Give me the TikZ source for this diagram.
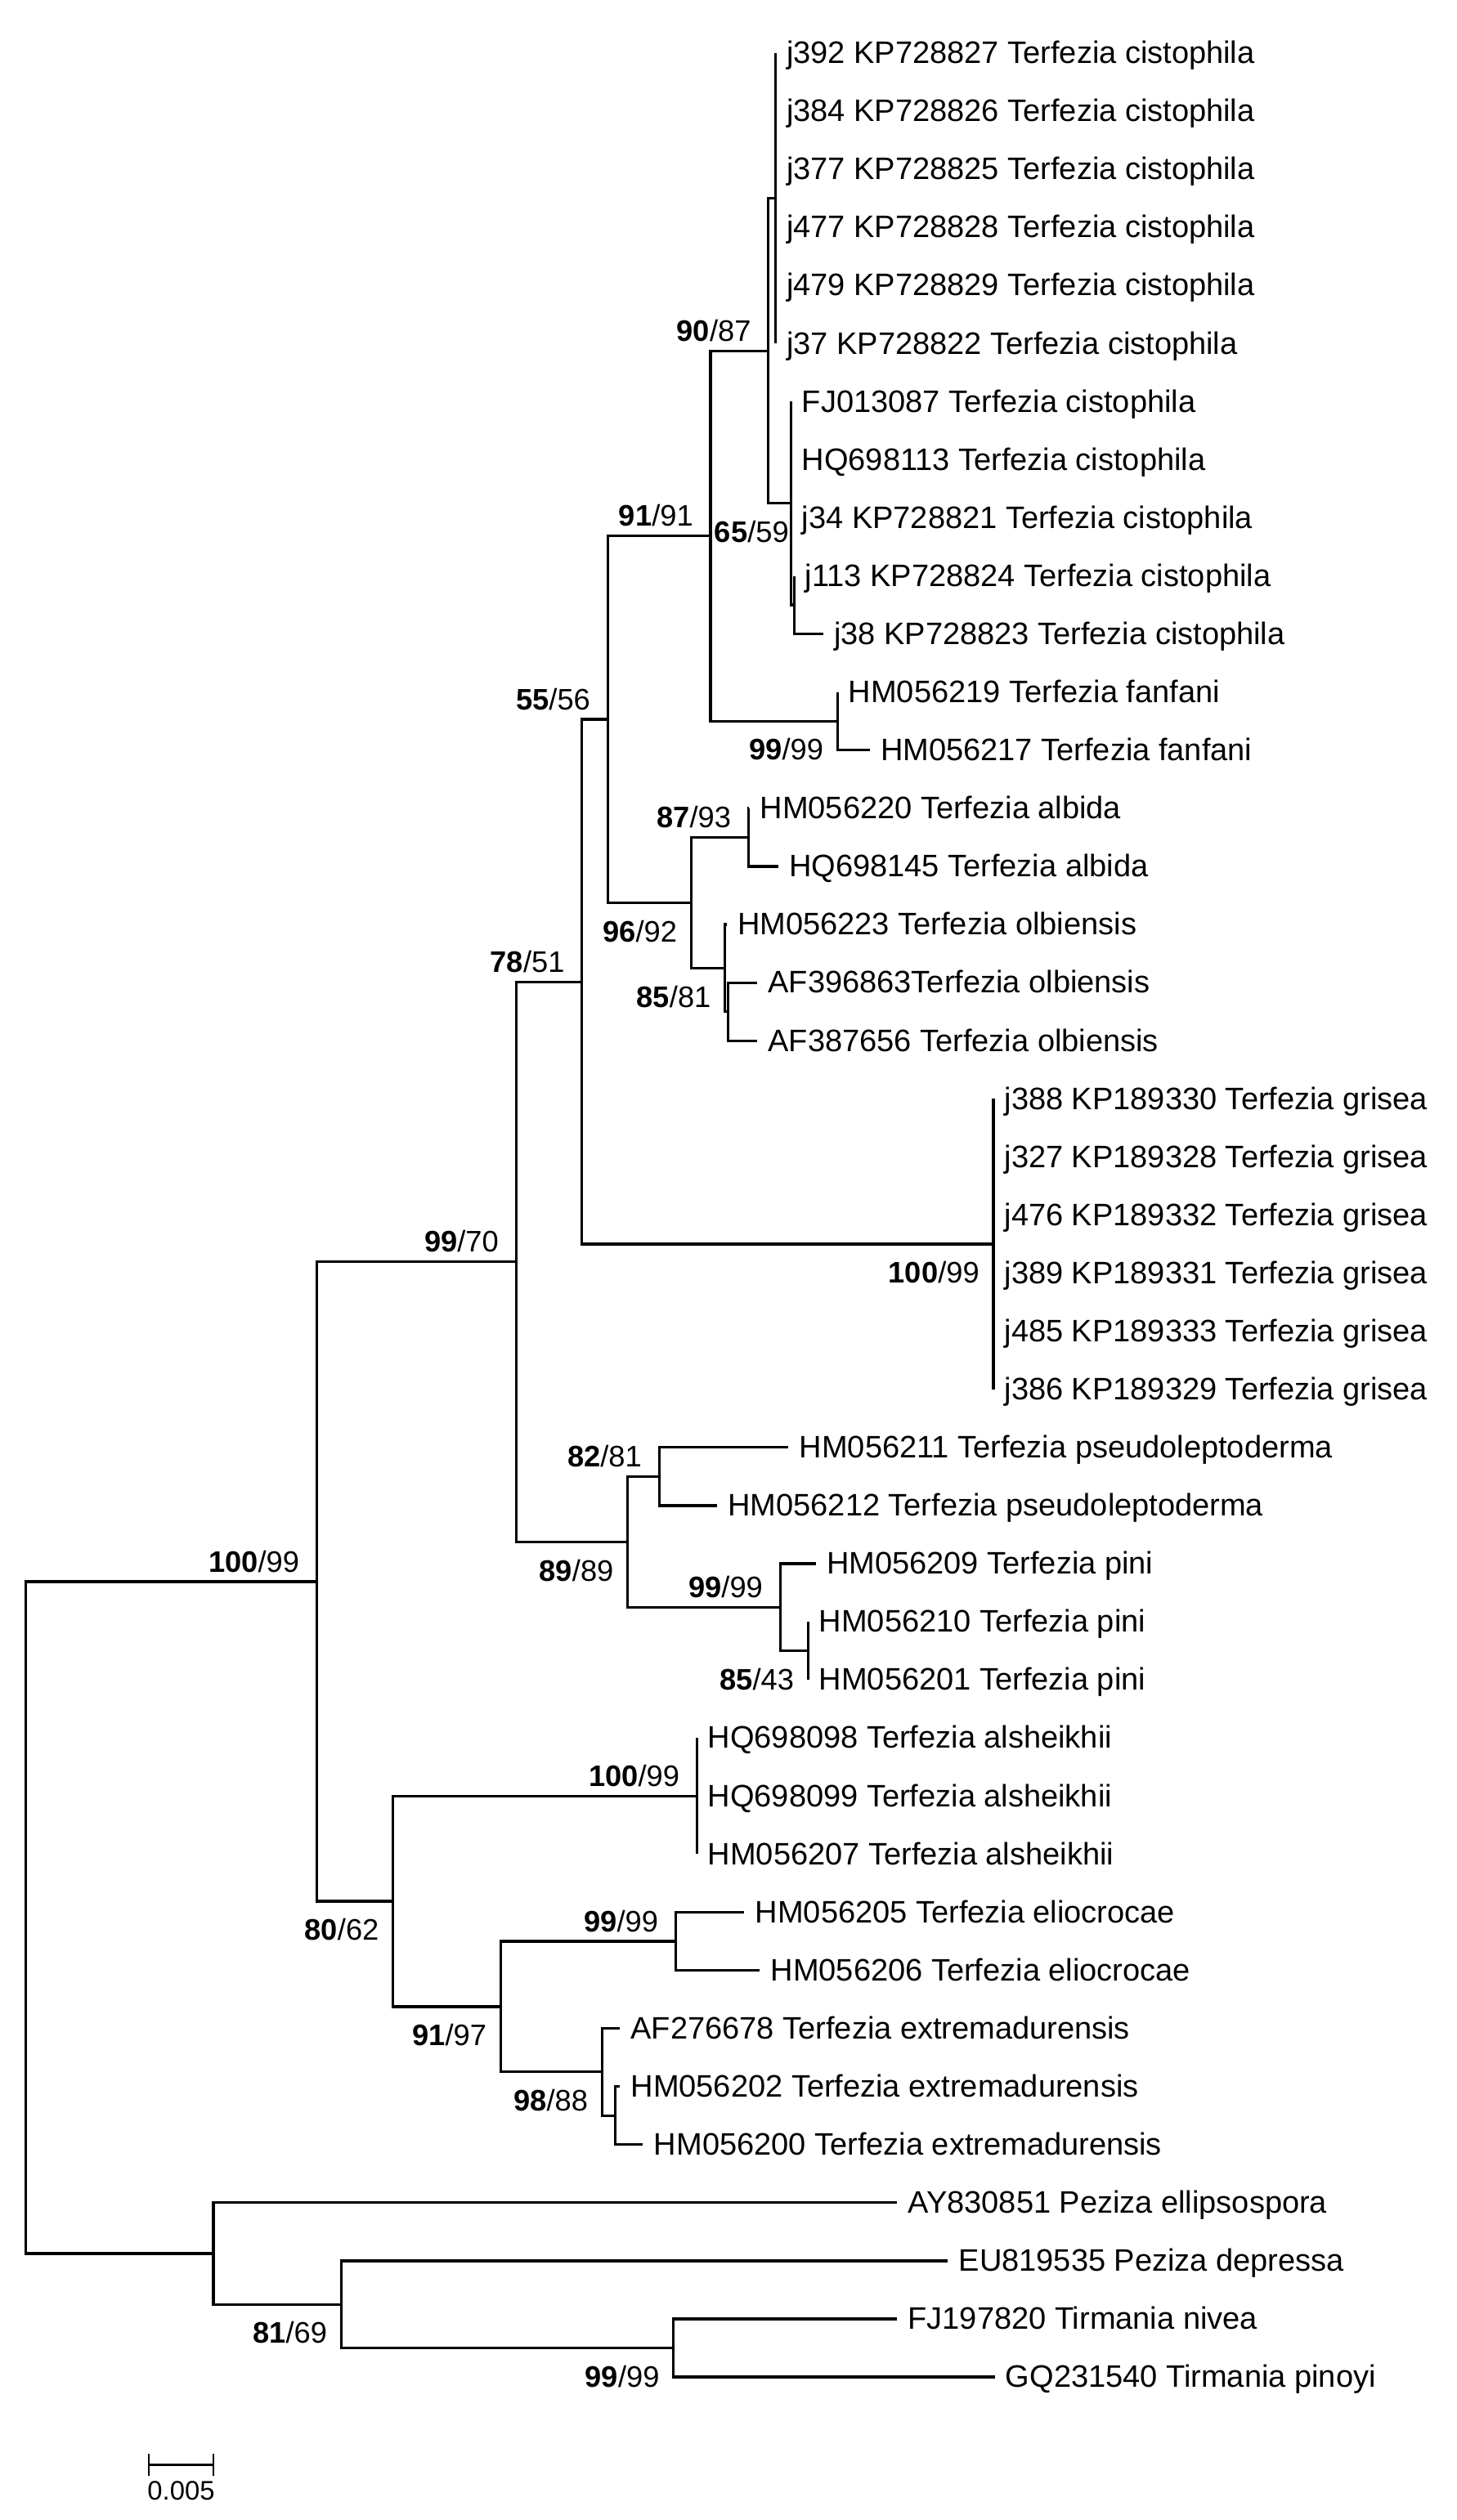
\documentclass[tikz,border=0pt]{standalone}
\usepackage{fontspec}
\setmainfont{Liberation Sans}
\usepackage{tikz}
\usetikzlibrary{positioning}
\definecolor{treeink}{RGB}{0,0,0}
\tikzset{
  branch/.style={line width=0.95pt, color=treeink},
  taxon/.style={anchor=base west, inner sep=0pt, xshift=0.13cm, yshift=-0.13cm,
    font=\fontsize{11}{13}\selectfont, color=treeink},
  bsup/.style={anchor=south east, inner sep=0pt, xshift=-0.21cm, yshift=0.11cm,
    font=\fontsize{10.5}{12}\selectfont, color=treeink},
  bsdown/.style={anchor=north east, inner sep=0pt, xshift=-0.17cm, yshift=-0.21cm,
    font=\fontsize{10.5}{12}\selectfont, color=treeink},
  scalelbl/.style={inner sep=0pt, font=\fontsize{9.5}{11}\selectfont, color=treeink}
}
\newcommand{\bsval}[2]{\textbf{#1}/#2}

\begin{document}
\begin{tikzpicture}[x=0.02cm, y=-0.02cm]
  \useasboundingbox (0,0) rectangle (906,1568);

  % Internal nodes
  \coordinate (nRoot)    at (16,1193.1);
  \coordinate (nTerf)    at (197,984.1);
  \coordinate (nUpper)   at (321,785.1);
  \coordinate (nCore)    at (362,610.9);
  \coordinate (nMid)     at (378,447.6);
  \coordinate (nCistFan) at (442,333.5);
  \coordinate (nCist)    at (478,218.3);
  \coordinate (nJgrp)    at (482.5,123.4);
  \coordinate (nCistB)   at (492,313.2);
  \coordinate (nCistC)   at (494,376.4);
  \coordinate (nFan)     at (521,448.7);
  \coordinate (nAlbOlb)  at (430,561.7);
  \coordinate (nAlb)     at (465.5,521.0);
  \coordinate (nOlb)     at (451,602.4);
  \coordinate (nOlbB)    at (453,629.5);
  \coordinate (nGris)    at (618,774.1);
  \coordinate (nPsPi)    at (390.5,959.4);
  \coordinate (nPseu)    at (410,918.7);
  \coordinate (nPini)    at (485.3,1000.0);
  \coordinate (nPiniB)   at (502.7,1027.1);
  \coordinate (nLower)   at (244.5,1183.0);
  \coordinate (nAls)     at (433.5,1117.5);
  \coordinate (nElEx)    at (311.5,1248.6);
  \coordinate (nElio)    at (420.3,1207.9);
  \coordinate (nExt)     at (374.5,1289.2);
  \coordinate (nExtB)    at (382.8,1316.3);
  \coordinate (nOut)     at (132.7,1402.2);
  \coordinate (nPezTir)  at (212.3,1433.8);
  \coordinate (nTir)     at (419,1460.9);

  % Leaf tips and taxon names
  % Terfezia cistophila
  \coordinate (l1) at (482.5,33);      \node[taxon] (t1) at (l1) {j392 KP728827 Terfezia cistophila};
  \coordinate (l2) at (482.5,69.15);   \node[taxon] (t2) at (l2) {j384 KP728826 Terfezia cistophila};
  \coordinate (l3) at (482.5,105.3);   \node[taxon] (t3) at (l3) {j377 KP728825 Terfezia cistophila};
  \coordinate (l4) at (482.5,141.45);  \node[taxon] (t4) at (l4) {j477 KP728828 Terfezia cistophila};
  \coordinate (l5) at (482.5,177.6);   \node[taxon] (t5) at (l5) {j479 KP728829 Terfezia cistophila};
  \coordinate (l6) at (482.5,213.75);  \node[taxon] (t6) at (l6) {j37 KP728822 Terfezia cistophila};
  \coordinate (l7) at (492,249.9);     \node[taxon] (t7) at (l7) {FJ013087 Terfezia cistophila};
  \coordinate (l8) at (492,286.05);    \node[taxon] (t8) at (l8) {HQ698113 Terfezia cistophila};
  \coordinate (l9) at (492,322.2);     \node[taxon] (t9) at (l9) {j34 KP728821 Terfezia cistophila};
  \coordinate (l10) at (494,358.35);   \node[taxon] (t10) at (l10) {j113 KP728824 Terfezia cistophila};
  \coordinate (l11) at (512,394.5);    \node[taxon] (t11) at (l11) {j38 KP728823 Terfezia cistophila};
  % Terfezia fanfani, albida, olbiensis
  \coordinate (l12) at (521,430.65);   \node[taxon] (t12) at (l12) {HM056219 Terfezia fanfani};
  \coordinate (l13) at (541,466.8);    \node[taxon] (t13) at (l13) {HM056217 Terfezia fanfani};
  \coordinate (l14) at (466,502.95);   \node[taxon] (t14) at (l14) {HM056220 Terfezia albida};
  \coordinate (l15) at (484,539.1);    \node[taxon] (t15) at (l15) {HQ698145 Terfezia albida};
  \coordinate (l16) at (452,575.25);   \node[taxon] (t16) at (l16) {HM056223 Terfezia olbiensis};
  \coordinate (l17) at (471,611.4);    \node[taxon] (t17) at (l17) {AF396863Terfezia olbiensis};
  \coordinate (l18) at (471,647.55);   \node[taxon] (t18) at (l18) {AF387656 Terfezia olbiensis};
  % Terfezia grisea
  \coordinate (l19) at (618,683.7);    \node[taxon] (t19) at (l19) {j388 KP189330 Terfezia grisea};
  \coordinate (l20) at (618,719.85);   \node[taxon] (t20) at (l20) {j327 KP189328 Terfezia grisea};
  \coordinate (l21) at (618,756);      \node[taxon] (t21) at (l21) {j476 KP189332 Terfezia grisea};
  \coordinate (l22) at (618,792.15);   \node[taxon] (t22) at (l22) {j389 KP189331 Terfezia grisea};
  \coordinate (l23) at (618,828.3);    \node[taxon] (t23) at (l23) {j485 KP189333 Terfezia grisea};
  \coordinate (l24) at (618,864.45);   \node[taxon] (t24) at (l24) {j386 KP189329 Terfezia grisea};
  % Terfezia pseudoleptoderma, pini
  \coordinate (l25) at (490.5,900.6);  \node[taxon] (t25) at (l25) {HM056211 Terfezia pseudoleptoderma};
  \coordinate (l26) at (446,936.75);   \node[taxon] (t26) at (l26) {HM056212 Terfezia pseudoleptoderma};
  \coordinate (l27) at (507.4,972.9);  \node[taxon] (t27) at (l27) {HM056209 Terfezia pini};
  \coordinate (l28) at (502.7,1009.05); \node[taxon] (t28) at (l28) {HM056210 Terfezia pini};
  \coordinate (l29) at (502.7,1045.2); \node[taxon] (t29) at (l29) {HM056201 Terfezia pini};
  % Terfezia alsheikhii, eliocrocae, extremadurensis
  \coordinate (l30) at (433.5,1081.35); \node[taxon] (t30) at (l30) {HQ698098 Terfezia alsheikhii};
  \coordinate (l31) at (433.5,1117.5); \node[taxon] (t31) at (l31) {HQ698099 Terfezia alsheikhii};
  \coordinate (l32) at (433.5,1153.65); \node[taxon] (t32) at (l32) {HM056207 Terfezia alsheikhii};
  \coordinate (l33) at (463,1189.8);   \node[taxon] (t33) at (l33) {HM056205 Terfezia eliocrocae};
  \coordinate (l34) at (472.6,1225.95); \node[taxon] (t34) at (l34) {HM056206 Terfezia eliocrocae};
  \coordinate (l35) at (385.6,1262.1); \node[taxon] (t35) at (l35) {AF276678 Terfezia extremadurensis};
  \coordinate (l36) at (385.6,1298.25); \node[taxon] (t36) at (l36) {HM056202 Terfezia extremadurensis};
  \coordinate (l37) at (400,1334.4);   \node[taxon] (t37) at (l37) {HM056200 Terfezia extremadurensis};
  % Outgroup
  \coordinate (l38) at (558,1370.55);  \node[taxon] (t38) at (l38) {AY830851 Peziza ellipsospora};
  \coordinate (l39) at (589.6,1406.7); \node[taxon] (t39) at (l39) {EU819535 Peziza depressa};
  \coordinate (l40) at (558,1442.85);  \node[taxon] (t40) at (l40) {FJ197820 Tirmania nivea};
  \coordinate (l41) at (618.7,1479);   \node[taxon] (t41) at (l41) {GQ231540 Tirmania pinoyi};

  % Branches
  \draw[branch] (nRoot) |- (nTerf) (nRoot) |- (nOut);
  \draw[branch] (nTerf) |- (nUpper) (nTerf) |- (nLower);
  \draw[branch] (nUpper) |- (nCore) (nUpper) |- (nPsPi);
  \draw[branch] (nCore) |- (nMid) (nCore) |- (nGris);
  \draw[branch] (nMid) |- (nCistFan) (nMid) |- (nAlbOlb);
  \draw[branch] (nCistFan) |- (nCist) (nCistFan) |- (nFan);
  \draw[branch] (nCist) |- (nJgrp) (nCist) |- (nCistB);
  \draw[branch] (nJgrp) |- (l1) (nJgrp) |- (l2) (nJgrp) |- (l3)
    (nJgrp) |- (l4) (nJgrp) |- (l5) (nJgrp) |- (l6);
  \draw[branch] (nCistB) |- (l7) (nCistB) |- (l8) (nCistB) |- (l9) (nCistB) |- (nCistC);
  \draw[branch] (nCistC) |- (l10) (nCistC) |- (l11);
  \draw[branch] (nFan) |- (l12) (nFan) |- (l13);
  \draw[branch] (nAlbOlb) |- (nAlb) (nAlbOlb) |- (nOlb);
  \draw[branch] (nAlb) |- (l14) (nAlb) |- (l15);
  \draw[branch] (nOlb) |- (l16) (nOlb) |- (nOlbB);
  \draw[branch] (nOlbB) |- (l17) (nOlbB) |- (l18);
  \draw[branch] (nGris) |- (l19) (nGris) |- (l20) (nGris) |- (l21)
    (nGris) |- (l22) (nGris) |- (l23) (nGris) |- (l24);
  \draw[branch] (nPsPi) |- (nPseu) (nPsPi) |- (nPini);
  \draw[branch] (nPseu) |- (l25) (nPseu) |- (l26);
  \draw[branch] (nPini) |- (l27) (nPini) |- (nPiniB);
  \draw[branch] (nPiniB) |- (l28) (nPiniB) |- (l29);
  \draw[branch] (nLower) |- (nAls) (nLower) |- (nElEx);
  \draw[branch] (nAls) |- (l30) (nAls) |- (l31) (nAls) |- (l32);
  \draw[branch] (nElEx) |- (nElio) (nElEx) |- (nExt);
  \draw[branch] (nElio) |- (l33) (nElio) |- (l34);
  \draw[branch] (nExt) |- (l35) (nExt) |- (nExtB);
  \draw[branch] (nExtB) |- (l36) (nExtB) |- (l37);
  \draw[branch] (nOut) |- (l38) (nOut) |- (nPezTir);
  \draw[branch] (nPezTir) |- (l39) (nPezTir) |- (nTir);
  \draw[branch] (nTir) |- (l40) (nTir) |- (l41);

  % Bootstrap values (bold first value)
  \node[bsup]   (bTerf)    at (nTerf)    {\bsval{100}{99}};
  \node[bsup]   (bUpper)   at (nUpper)   {\bsval{99}{70}};
  \node[bsup]   (bCore)    at (nCore)    {\bsval{78}{51}};
  \node[bsup]   (bMid)     at (nMid)     {\bsval{55}{56}};
  \node[bsup]   (bCistFan) at (nCistFan) {\bsval{91}{91}};
  \node[bsup]   (bCist)    at (nCist)    {\bsval{90}{87}};
  \node[bsdown, xshift=0.15cm] (bCistB) at (nCistB) {\bsval{65}{59}};
  \node[bsdown] (bFan)     at (nFan)     {\bsval{99}{99}};
  \node[bsdown] (bAlbOlb)  at (nAlbOlb)  {\bsval{96}{92}};
  \node[bsup]   (bAlb)     at (nAlb)     {\bsval{87}{93}};
  \node[bsdown] (bOlb)     at (nOlb)     {\bsval{85}{81}};
  \node[bsdown] (bGris)    at (nGris)    {\bsval{100}{99}};
  \node[bsdown] (bPsPi)    at (nPsPi)    {\bsval{89}{89}};
  \node[bsup]   (bPseu)    at (nPseu)    {\bsval{82}{81}};
  \node[bsup]   (bPini)    at (nPini)    {\bsval{99}{99}};
  \node[bsdown] (bPiniB)   at (nPiniB)   {\bsval{85}{43}};
  \node[bsdown] (bLower)   at (nLower)   {\bsval{80}{62}};
  \node[bsup]   (bAls)     at (nAls)     {\bsval{100}{99}};
  \node[bsdown] (bElEx)    at (nElEx)    {\bsval{91}{97}};
  \node[bsup]   (bElio)    at (nElio)    {\bsval{99}{99}};
  \node[bsdown] (bExt)     at (nExt)     {\bsval{98}{88}};
  \node[bsdown] (bPezTir)  at (nPezTir)  {\bsval{81}{69}};
  \node[bsdown] (bTir)     at (nTir)     {\bsval{99}{99}};

  % Scale bar
  \coordinate (sbL) at (92.4,1533.6);
  \coordinate (sbR) at (132.9,1533.6);
  \coordinate (sbM) at (112.65,1533.6);
  \draw[branch] (sbL) -- (sbR);
  \draw[line width=0.6pt] (sbL) ++(0,-6.8) -- ++(0,13.6);
  \draw[line width=0.6pt] (sbR) ++(0,-6.8) -- ++(0,13.6);
  \node[scalelbl, below=0.2cm of sbM, anchor=north] (sbLab) {0.005};
\end{tikzpicture}
\end{document}
